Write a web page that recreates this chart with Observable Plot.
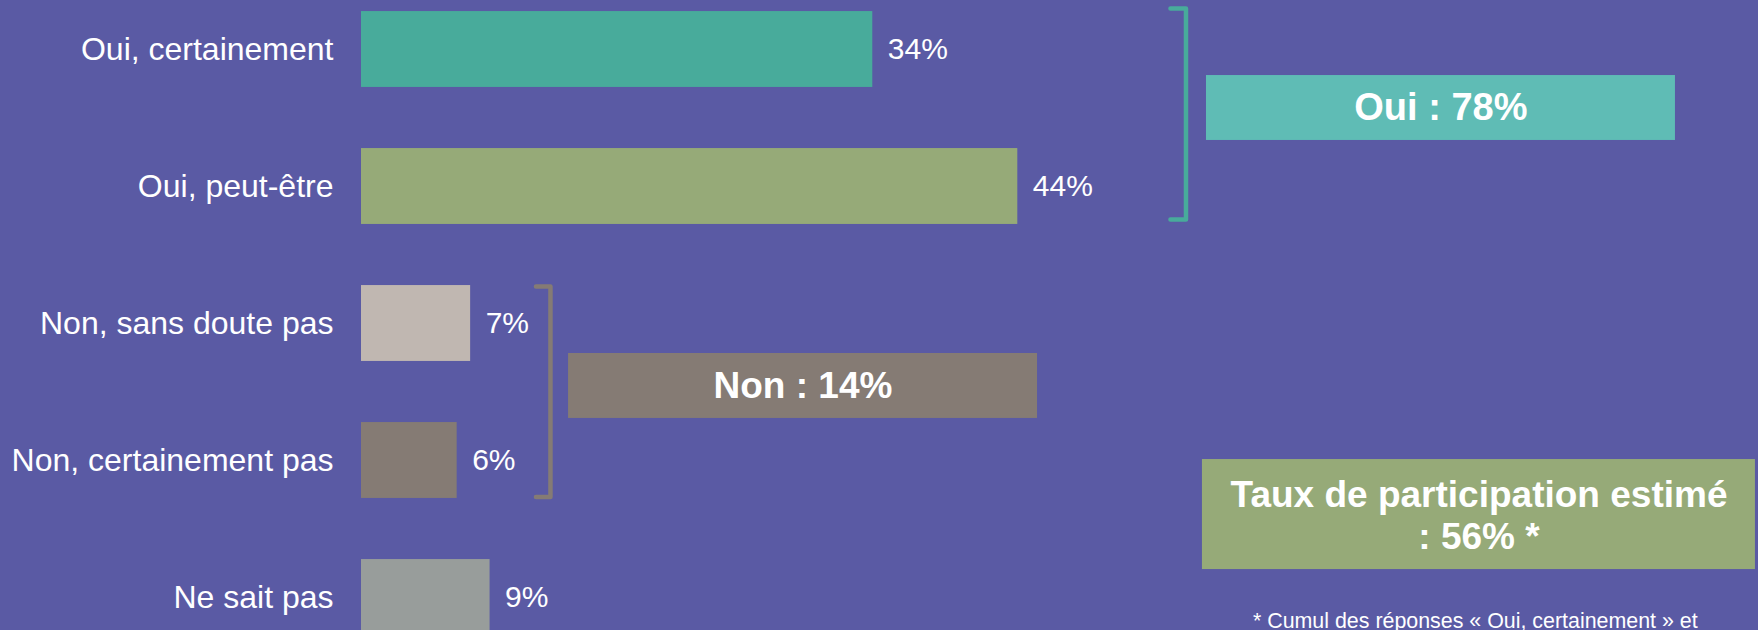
<!DOCTYPE html>
<html><head><meta charset="utf-8">
<script src="https://cdn.jsdelivr.net/npm/d3@7"></script>
<script src="https://cdn.jsdelivr.net/npm/@observablehq/plot@0.6"></script>
<style>html,body{margin:0;padding:0;background:#5a5aa4;overflow:hidden}</style>
</head><body><div id="chart"></div>
<script>
const categories = ["Oui, certainement", "Oui, peut-être", "Non, sans doute pas", "Non, certainement pas", "Ne sait pas"];
const values = [34.2, 43.9, 7.3, 6.4, 8.6];
const valueLabels = ["34%", "44%", "7%", "6%", "9%"];
const barColors = ["#48ab9b", "#96aa78", "#c0b7b1", "#857b74", "#989d9b"];
const groupLabels = ["Oui : 78%", "Non : 14%"];
const turnoutLabel = "Taux de participation estimé\n: 56% *";
const footnote = "* Cumul des réponses « Oui, certainement » et";

const rows = categories.map((c, i) => ({i, category: c, value: values[i], label: valueLabels[i], color: barColors[i]}));
const half = 0.277;
const FONT = "'Liberation Sans', Arial, sans-serif";

const chart = Plot.plot({
  width: 1758, height: 630,
  marginTop: 0, marginBottom: 0, marginRight: 0, marginLeft: 361,
  x: {domain: [0, 100], range: [361, 1856], axis: null},
  y: {domain: [0, 4], range: [49, 597]},
  color: {type: "identity"},
  style: {background: "#5a5aa4", color: "white", fontFamily: FONT, fontSize: "32px", overflow: "hidden"},
  marks: [
    Plot.axisY({ticks: [0, 1, 2, 3, 4], tickFormat: i => categories[i], tickSize: 0, tickPadding: 28, fontSize: 32, label: null}),
    Plot.rect(rows, {x1: 0, x2: "value", y1: d => d.i - half, y2: d => d.i + half, fill: "color"}),
    Plot.text(rows, {x: "value", y: "i", text: "label", dx: 15, textAnchor: "start", fontSize: 30, fill: "white"}),
    // brackets
    Plot.line([[54.11, -0.299], [55.15, -0.299], [55.15, 1.241], [54.11, 1.241]], {stroke: "#48ab9b", strokeWidth: 4.5, strokeLinejoin: "round"}),
    Plot.line([[11.67, 1.73], [12.64, 1.73], [12.64, 3.266], [11.67, 3.266]], {stroke: "#857b74", strokeWidth: 4.5, strokeLinejoin: "round"}),
    // summary boxes
    Plot.rect([groupLabels[0]], {x1: 56.52, x2: 87.89, y1: 0.19, y2: 0.664, fill: "#5fbcb5"}),
    Plot.text([groupLabels[0]], {x: 72.2, y: 0.427, text: d => d, fontSize: 38, fontWeight: "bold", fill: "white"}),
    Plot.rect([groupLabels[1]], {x1: 13.85, x2: 45.22, y1: 2.219, y2: 2.693, fill: "#857b74"}),
    Plot.text([groupLabels[1]], {x: 29.53, y: 2.456, text: d => d, fontSize: 37, fontWeight: "bold", fill: "white"}),
    Plot.rect([turnoutLabel], {x1: 56.25, x2: 93.24, y1: 2.993, y2: 3.796, fill: "#96aa78"}),
    Plot.text([turnoutLabel], {x: 74.75, y: 3.394, text: d => d, fontSize: 37, fontWeight: "bold", lineHeight: 1.135, fill: "white"}),
    Plot.text([footnote], {x: 74.5, y: 4.169, text: d => d, fontSize: 21.4, fill: "white"})
  ]
});
document.getElementById("chart").appendChild(chart);
</script>
</body></html>
